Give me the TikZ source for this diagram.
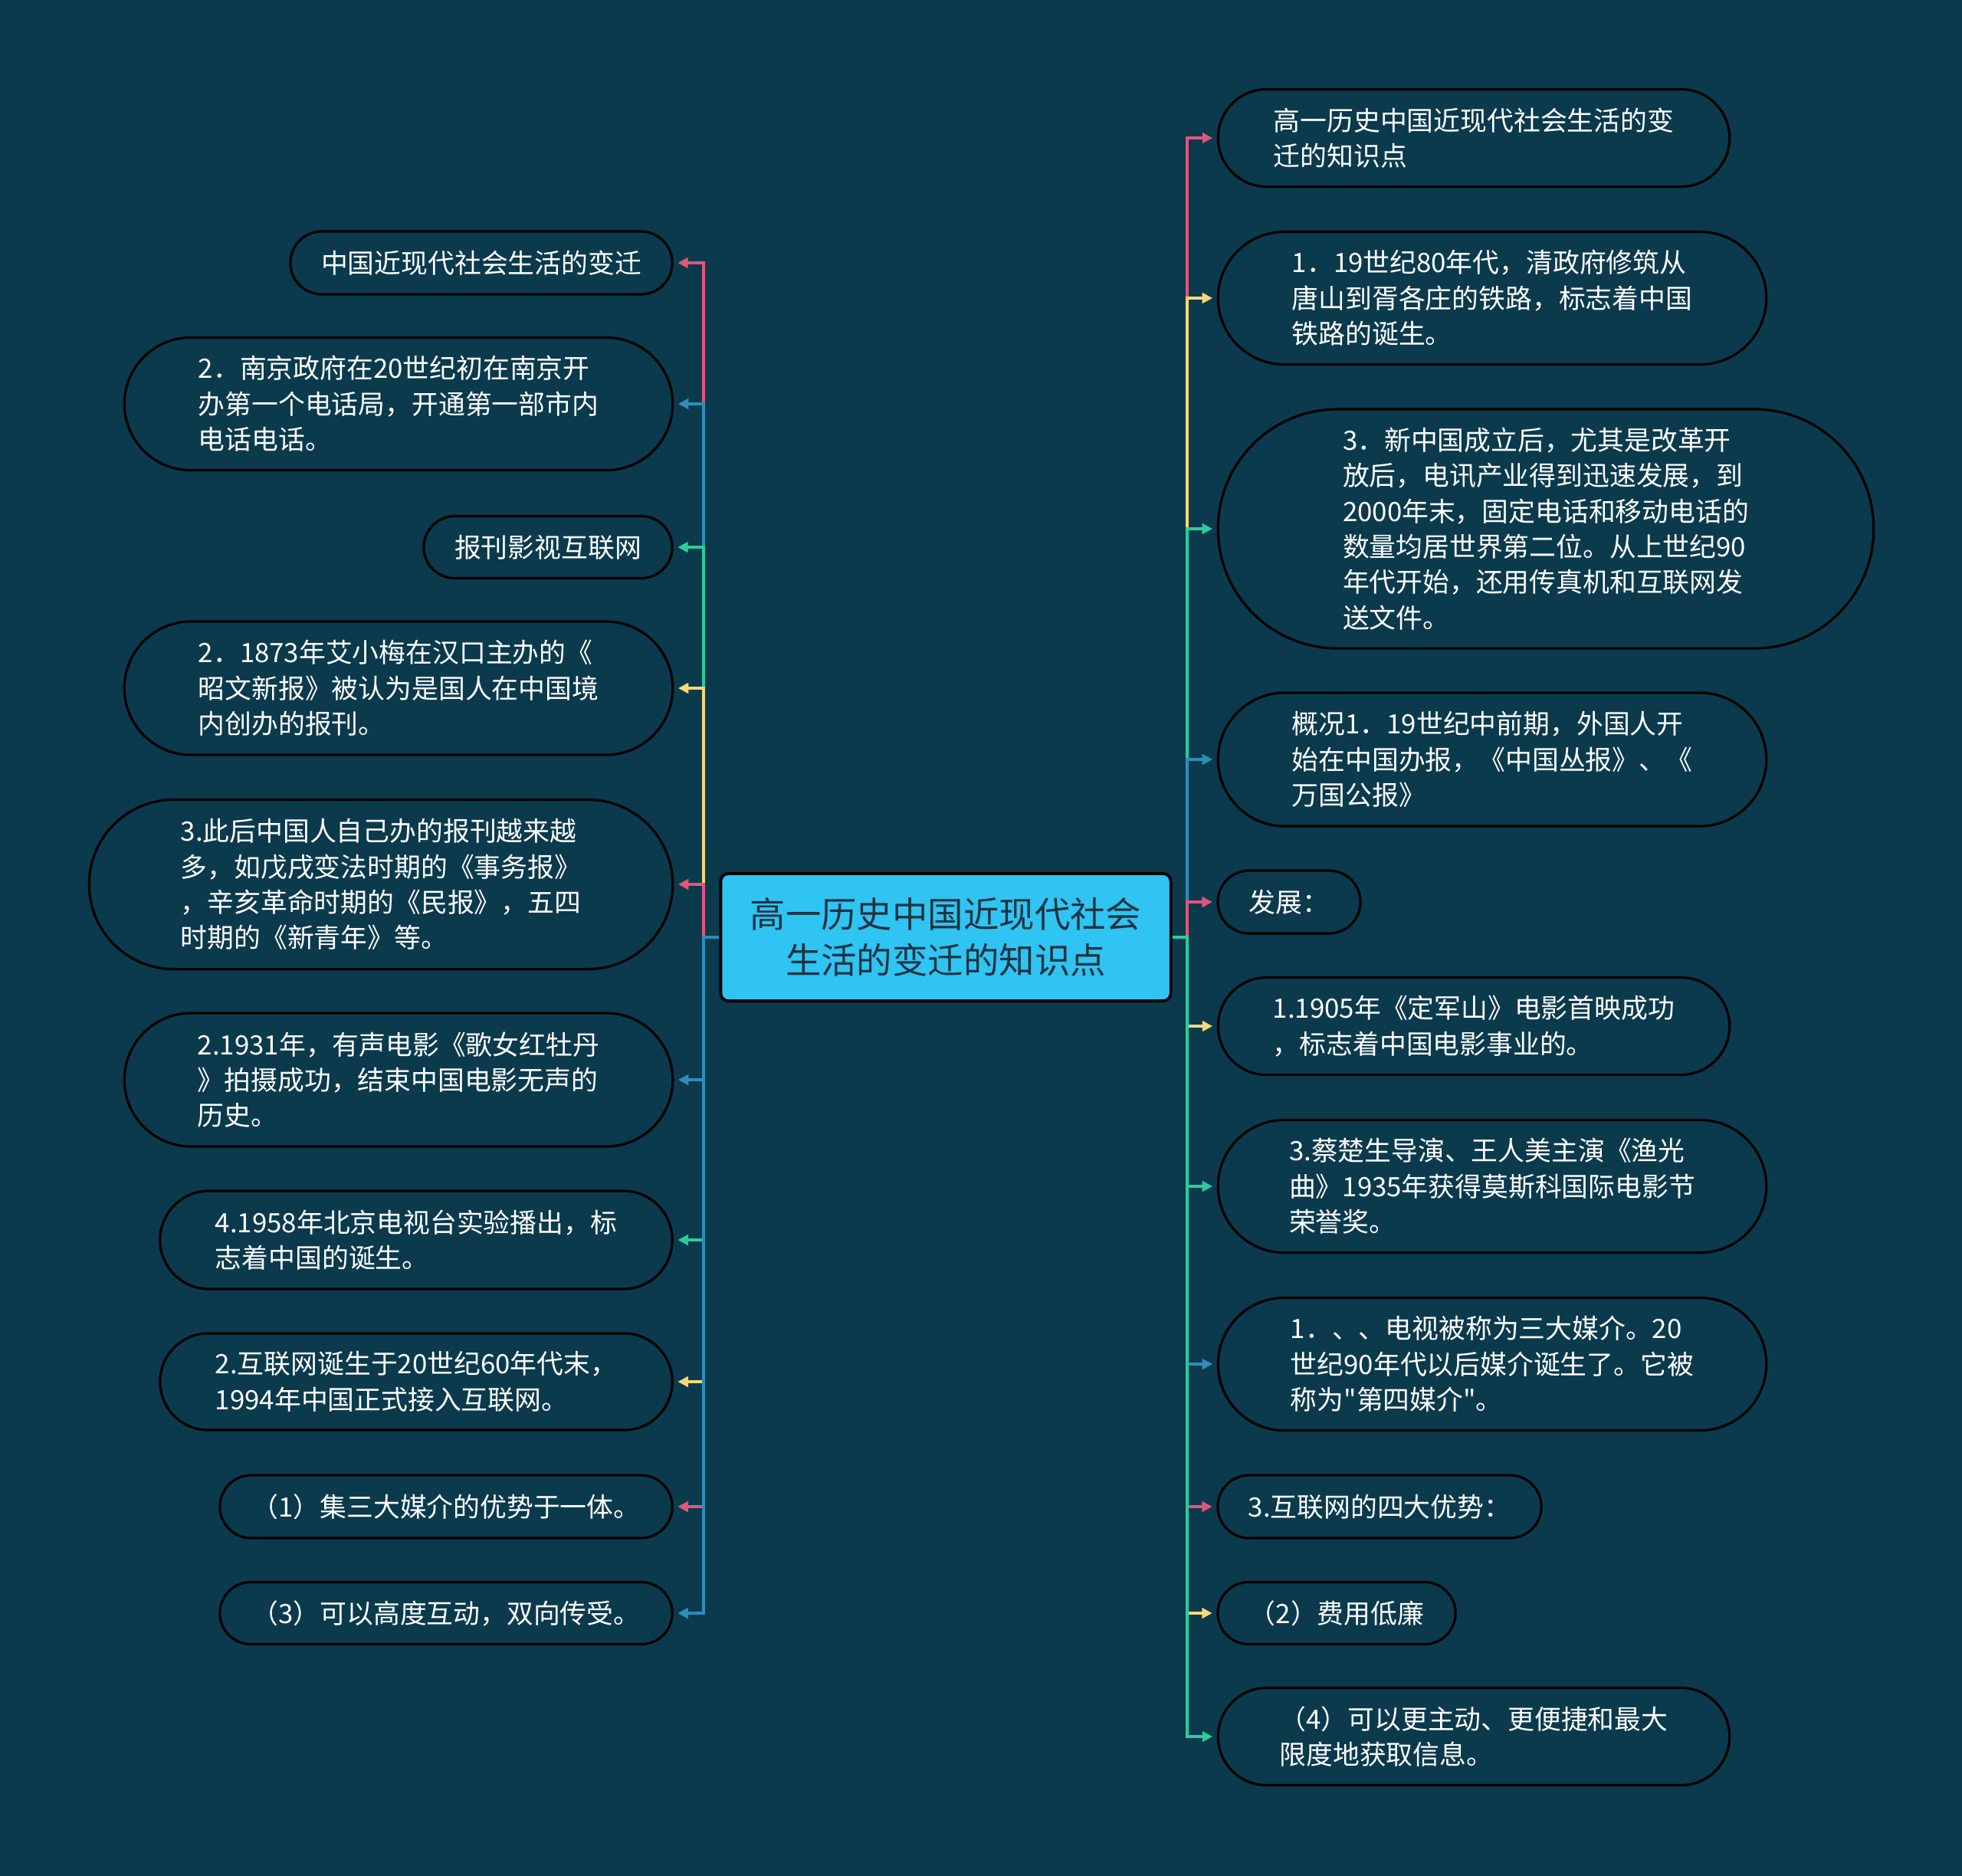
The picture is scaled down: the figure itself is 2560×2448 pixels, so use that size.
\documentclass[tikz,border=0pt]{standalone}
\usepackage{fontspec}
\newfontfamily\cjk{Noto Sans CJK SC}
\usetikzlibrary{arrows.meta}
\definecolor{bgc}{HTML}{0B3A4D}
\definecolor{rootc}{HTML}{2FC4F2}
\definecolor{roottext}{HTML}{1E3342}
\definecolor{linkpink}{HTML}{E2557B}
\definecolor{linkblue}{HTML}{2E8DB9}
\definecolor{linkgreen}{HTML}{2DCB9C}
\definecolor{linkyellow}{HTML}{F6D878}

\begin{document}
\begin{tikzpicture}[x=0.01cm,y=-0.01cm,
  leaf/.style n args={3}{draw=black,line width=0.9pt,fill=bgc,text=white,align=left,
    font=\cjk\fontsize{9.9pt}{13.2pt}\selectfont,inner sep=0pt,
    minimum width=#1,minimum height=#2,rounded corners=#3},
  link/.style={line width=1.1pt,draw=#1,-{Triangle[length=3.8pt,width=3.8pt]},shorten >=1.6pt}]
%
% background
\fill[bgc] (0,0) rectangle (2560,2448);
\useasboundingbox (0,0) rectangle (2560,2448);

% Root
\node[draw=black,line width=1.1pt,fill=rootc,text=roottext,rounded corners=0.1cm,
  minimum width=5.87cm,minimum height=1.66cm,align=center,
  font=\cjk\fontsize{13.2pt}{17.2pt}\selectfont] (root) at (1234,1223)
  {高一历史中国近现代社会\\生活的变迁的知识点};
\coordinate (ltrunk) at (918,1223);
\coordinate (rtrunk) at (1549,1223);

%
% Left side
\node[leaf={4.98cm}{0.82cm}{0.409cm}] (l1) at (628,343) {中国近现代社会生活的变迁};
\node[leaf={7.15cm}{1.73cm}{0.864cm}] (l2) at (520,527) {2．南京政府在20世纪初在南京开\\办第一个电话局，开通第一部市内\\电话电话。};
\node[leaf={3.24cm}{0.81cm}{0.404cm}] (l3) at (715,714) {报刊影视互联网};
\node[leaf={7.15cm}{1.74cm}{0.869cm}] (l4) at (520,898) {2．1873年艾小梅在汉口主办的《\\昭文新报》被认为是国人在中国境\\内创办的报刊。};
\node[leaf={7.61cm}{2.21cm}{1.104cm}] (l5) at (497,1154) {3.此后中国人自己办的报刊越来越\\多，如戊戌变法时期的《事务报》\\，辛亥革命时期的《民报》，五四\\时期的《新青年》等。};
\node[leaf={7.15cm}{1.74cm}{0.869cm}] (l6) at (520,1409) {2.1931年，有声电影《歌女红牡丹\\》拍摄成功，结束中国电影无声的\\历史。};
\node[leaf={6.68cm}{1.28cm}{0.639cm}] (l7) at (543,1618) {4.1958年北京电视台实验播出，标\\志着中国的诞生。};
\node[leaf={6.68cm}{1.26cm}{0.629cm}] (l8) at (543,1803) {2.互联网诞生于20世纪60年代末，\\1994年中国正式接入互联网。};
\node[leaf={5.90cm}{0.82cm}{0.409cm}] (l9) at (582,1966) {（1）集三大媒介的优势于一体。};
\node[leaf={5.90cm}{0.81cm}{0.404cm}] (l10) at (582,2105) {（3）可以高度互动，双向传受。};

\draw[link=linkpink] (root.west) -- (ltrunk) |- (l1.east);
\draw[link=linkblue] (root.west) -- (ltrunk) |- (l2.east);
\draw[link=linkgreen] (root.west) -- (ltrunk) |- (l3.east);
\draw[link=linkyellow] (root.west) -- (ltrunk) |- (l4.east);
\draw[link=linkpink] (root.west) -- (ltrunk) |- (l5.east);
\draw[link=linkblue] (root.west) -- (ltrunk) |- (l6.east);
\draw[link=linkgreen] (root.west) -- (ltrunk) |- (l7.east);
\draw[link=linkyellow] (root.west) -- (ltrunk) |- (l8.east);
\draw[link=linkpink] (root.west) -- (ltrunk) |- (l9.east);
\draw[link=linkblue] (root.west) -- (ltrunk) |- (l10.east);

%
% Right side
\node[leaf={6.67cm}{1.27cm}{0.634cm}] (r1) at (1923,180) {高一历史中国近现代社会生活的变\\迁的知识点};
\node[leaf={7.15cm}{1.73cm}{0.864cm}] (r2) at (1947,389) {1．19世纪80年代，清政府修筑从\\唐山到胥各庄的铁路，标志着中国\\铁路的诞生。};
\node[leaf={8.55cm}{3.12cm}{1.559cm}] (r3) at (2017,690) {3．新中国成立后，尤其是改革开\\放后，电讯产业得到迅速发展，到\\2000年末，固定电话和移动电话的\\数量均居世界第二位。从上世纪90\\年代开始，还用传真机和互联网发\\送文件。};
\node[leaf={7.15cm}{1.74cm}{0.869cm}] (r4) at (1947,991) {概况1．19世纪中前期，外国人开\\始在中国办报，《中国丛报》、《\\万国公报》};
\node[leaf={1.86cm}{0.82cm}{0.409cm}] (r5) at (1682,1177) {发展：};
\node[leaf={6.67cm}{1.27cm}{0.634cm}] (r6) at (1923,1339) {1.1905年《定军山》电影首映成功\\，标志着中国电影事业的。};
\node[leaf={7.15cm}{1.73cm}{0.864cm}] (r7) at (1947,1548) {3.蔡楚生导演、王人美主演《渔光\\曲》1935年获得莫斯科国际电影节\\荣誉奖。};
\node[leaf={7.15cm}{1.73cm}{0.864cm}] (r8) at (1947,1780) {1．、、电视被称为三大媒介。20\\世纪90年代以后媒介诞生了。它被\\称为"第四媒介"。};
\node[leaf={4.22cm}{0.82cm}{0.409cm}] (r9) at (1800,1966) {3.互联网的四大优势：};
\node[leaf={3.10cm}{0.81cm}{0.404cm}] (r10) at (1744,2105) {（2）费用低廉};
\node[leaf={6.67cm}{1.27cm}{0.634cm}] (r11) at (1923,2266) {（4）可以更主动、更便捷和最大\\限度地获取信息。};

\draw[link=linkpink] (root.east) -- (rtrunk) |- (r1.west);
\draw[link=linkyellow] (root.east) -- (rtrunk) |- (r2.west);
\draw[link=linkgreen] (root.east) -- (rtrunk) |- (r3.west);
\draw[link=linkblue] (root.east) -- (rtrunk) |- (r4.west);
\draw[link=linkpink] (root.east) -- (rtrunk) |- (r5.west);
\draw[link=linkyellow] (root.east) -- (rtrunk) |- (r6.west);
\draw[link=linkgreen] (root.east) -- (rtrunk) |- (r7.west);
\draw[link=linkblue] (root.east) -- (rtrunk) |- (r8.west);
\draw[link=linkpink] (root.east) -- (rtrunk) |- (r9.west);
\draw[link=linkyellow] (root.east) -- (rtrunk) |- (r10.west);
\draw[link=linkgreen] (root.east) -- (rtrunk) |- (r11.west);
\end{tikzpicture}
\end{document}
